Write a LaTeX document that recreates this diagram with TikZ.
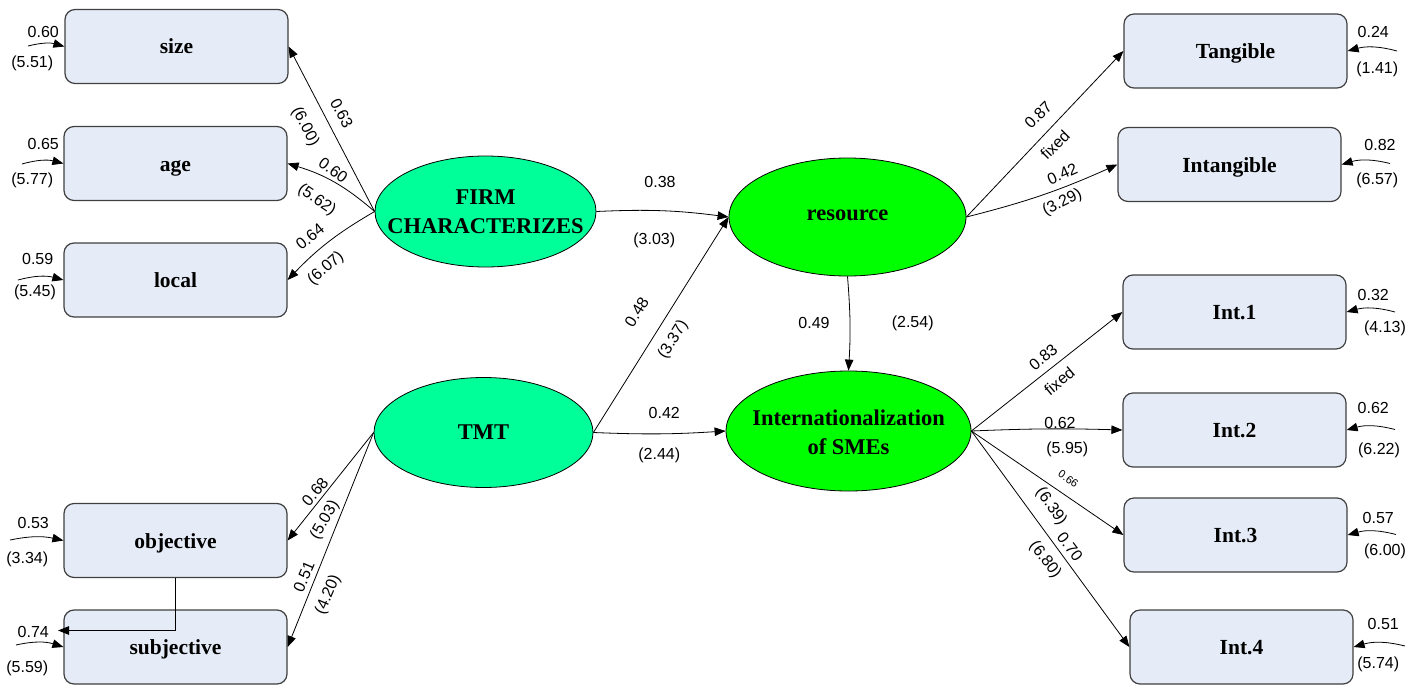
\documentclass[tikz,border=0pt]{standalone}
\usepackage{fontspec}
\setmainfont{Liberation Serif}
\newfontfamily\arialf{Liberation Sans}
\usetikzlibrary{arrows.meta,shapes.geometric}
\definecolor{boxfill}{HTML}{E6ECF7}
\definecolor{boxdraw}{HTML}{404040}
\definecolor{latA}{HTML}{00FF99}
\definecolor{latB}{HTML}{00FF00}
\begin{document}
\begin{tikzpicture}[x=1pt,y=-1pt,
  obs/.style={draw=boxdraw,line width=1.2pt,fill=boxfill,rounded corners=10pt,
    minimum width=223pt,minimum height=74pt,inner sep=0pt,text height=15pt,text depth=0pt,
    font=\fontsize{21.5}{24}\selectfont\bfseries},
  latent/.style={ellipse,draw=black,line width=0.8pt,inner sep=0pt},
  ltext/.style={font=\fontsize{22.5}{29}\selectfont\bfseries,align=center,inner sep=0pt},
  num/.style={font=\arialf\fontsize{16}{18}\selectfont,inner sep=0pt},
  tiny/.style={font=\arialf\fontsize{11}{12}\selectfont,inner sep=0pt},
  conn/.style={line width=0.8pt,-{Triangle[length=11pt,width=8.5pt]}}
]
\useasboundingbox (0,0) rectangle (1418,685);

% observed variables
\node[obs] (size) at (176.5,46.5) {size};
\node[obs] (age) at (175.5,163.5) {age};
\node[obs] (local) at (175.5,280) {local};
\node[obs] (objective) at (175.5,540.5) {objective};
\node[obs] (subjective) at (175.5,647) {subjective};
\node[obs] (tang) at (1235.5,51) {Tangible};
\node[obs] (intang) at (1229.5,164.5) {Intangible};
\node[obs] (int1) at (1234.5,312) {Int.1};
\node[obs] (int2) at (1234.5,430) {Int.2};
\node[obs] (int3) at (1235.5,535) {Int.3};
\node[obs] (int4) at (1241.5,647) {Int.4};

% latent variables
\node[latent,fill=latA,minimum width=221pt,minimum height=111pt] (firm) at (485.5,211.5) {};
\node[ltext] (firmt) at (485.5,211.5) {FIRM\\CHARACTERIZES};
\node[latent,fill=latA,minimum width=219pt,minimum height=110pt] (tmt) at (483.5,432.5) {};
\node[ltext] (tmtt) at (483.5,432) {TMT};
\node[latent,fill=latB,minimum width=237pt,minimum height=118pt] (res) at (847.5,217) {};
\node[ltext] (rest) at (847.5,215) {resource};
\node[latent,fill=latB,minimum width=245pt,minimum height=120pt] (intl) at (848.5,431) {};
\node[ltext] (intlt) at (848.5,432.5) {Internationalization\\of SMEs};

% structural / measurement paths
\draw[conn] (firm.west) -- (size.east);
\draw[conn] (firm.west) to[bend right=12] (age.east);
\draw[conn] (firm.west) to[bend right=8] (local.east);
\draw[conn] (firm.east) to[bend left=5] (res.west);
\draw[conn] (tmt.east) -- (res.west);
\draw[conn] (tmt.east) to[bend right=3] (intl.west);
\draw[conn] (res.south) to[bend left=4] (intl.north);
\draw[conn] (res.east) -- (tang.west);
\draw[conn] (res.east) to[bend right=5] (intang.west);
\draw[conn] (intl.east) -- (int1.west);
\draw[conn] (intl.east) to[bend left=2] (int2.west);
\draw[conn] (intl.east) -- (int3.west);
\draw[conn] (intl.east) -- (int4.west);
\draw[conn] (tmt.west) -- (objective.east);
\draw[conn] (tmt.west) -- (subjective.east);

% error terms
\coordinate (esize) at (28,46);
\coordinate (eage) at (22,164);
\coordinate (elocal) at (18,280);
\coordinate (eobj) at (10,540);
\coordinate (esub) at (16,645);
\coordinate (cov) at (58,630.5);
\coordinate (etang) at (1397,51);
\coordinate (eintang) at (1390,163.5);
\coordinate (eint1) at (1395,312);
\coordinate (eint2) at (1395,429.5);
\coordinate (eint3) at (1396,534.5);
\coordinate (eint4) at (1405,646);
\draw[conn] (esize) to[bend left=15] (size.west);
\draw[conn] (eage) to[bend left=15] (age.west);
\draw[conn] (elocal) to[bend left=15] (local.west);
\draw[conn] (eobj) to[bend left=12] (objective.west);
\draw[conn] (esub) to[bend left=15] (subjective.west);
\draw[conn] (objective.south) |- (cov);
\draw[conn] (etang) to[bend right=15] (tang.east);
\draw[conn] (eintang) to[bend right=15] (intang.east);
\draw[conn] (eint1) to[bend right=15] (int1.east);
\draw[conn] (eint2) to[bend right=15] (int2.east);
\draw[conn] (eint3) to[bend right=15] (int3.east);
\draw[conn] (eint4) to[bend right=15] (int4.east);

% error labels
\node[num] (l1) at (43.3,31.7) {0.60};
\node[num] (l2) at (32.3,63.3) {(5.51)};
\node[num] (l3) at (43.3,144) {0.65};
\node[num] (l4) at (32.3,180) {(5.77)};
\node[num] (l5) at (37.7,259.3) {0.59};
\node[num] (l6) at (35,292.7) {(5.45)};
\node[num] (l7) at (33.3,523.3) {0.53};
\node[num] (l8) at (27.3,559) {(3.34)};
\node[num] (l9) at (33.3,631.7) {0.74};
\node[num] (l10) at (27.3,668.3) {(5.59)};
\node[num] (r1) at (1373.3,31.7) {0.24};
\node[num] (r2) at (1377.3,69.3) {(1.41)};
\node[num] (r3) at (1380,145) {0.82};
\node[num] (r4) at (1377.3,180.7) {(6.57)};
\node[num] (r5) at (1373.3,295) {0.32};
\node[num] (r6) at (1385,328.3) {(4.13)};
\node[num] (r7) at (1373.3,408.3) {0.62};
\node[num] (r8) at (1379,450.7) {(6.22)};
\node[num] (r9) at (1378.3,518.3) {0.57};
\node[num] (r10) at (1385,551.7) {(6.00)};
\node[num] (r11) at (1383.3,624.3) {0.51};
\node[num] (r12) at (1378.3,664) {(5.74)};

% path labels
\node[num,rotate=-62.5] (p1) at (341.7,113.3) {0.63};
\node[num,rotate=-62.5] (p2) at (305,126.7) {(6.00)};
\node[num,rotate=-36] (p3) at (333.3,170) {0.60};
\node[num,rotate=-34] (p4) at (316.7,200) {(5.62)};
\node[num,rotate=39] (p5) at (310,236.7) {0.64};
\node[num,rotate=41] (p6) at (326,268.3) {(6.07)};
\node[num] (p7) at (660,181.7) {0.38};
\node[num] (p8) at (654.3,240.7) {(3.03)};
\node[num,rotate=58] (p9) at (636.7,312) {0.48};
\node[num,rotate=58] (p10) at (673.3,340) {(3.37)};
\node[num] (p11) at (664.3,412.7) {0.42};
\node[num] (p12) at (659.3,455) {(2.44)};
\node[num] (p13) at (814,323.3) {0.49};
\node[num] (p14) at (912.7,323.3) {(2.54)};
\node[num,rotate=50] (p15) at (315,491.7) {0.68};
\node[num,rotate=60] (p16) at (325,520) {(5.03)};
\node[num,rotate=67] (p17) at (304,576.7) {0.51};
\node[num,rotate=67] (p18) at (328.3,595) {(4.20)};
\node[num,rotate=45] (p19) at (1038.3,115) {0.87};
\node[num,rotate=45] (p20) at (1055,145) {fixed};
\node[num,rotate=24] (p21) at (1062.3,174) {0.42};
\node[num,rotate=27] (p22) at (1062.3,202.7) {(3.29)};
\node[num,rotate=40] (p23) at (1043.3,357.3) {0.83};
\node[num,rotate=40] (p24) at (1059.3,381) {fixed};
\node[num] (p25) at (1060,423.3) {0.62};
\node[num] (p26) at (1067.3,449.3) {(5.95)};
\node[tiny,rotate=-35] (p27) at (1068.3,479) {0.66};
\node[num,rotate=-55] (p28) at (1051,506.7) {(6.39)};
\node[num,rotate=-53] (p29) at (1070,546.7) {0.70};
\node[num,rotate=-53] (p30) at (1045,560) {(6.80)};
\end{tikzpicture}
\end{document}
